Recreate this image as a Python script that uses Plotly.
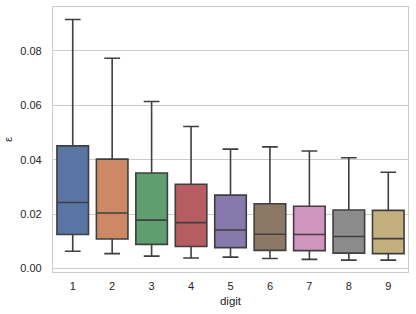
import plotly.graph_objects as go

digits = ["1", "2", "3", "4", "5", "6", "7", "8", "9"]
lower = [0.0064, 0.0055, 0.0046, 0.0039, 0.0042, 0.0037, 0.0034, 0.0031, 0.0031]
q1 = [0.0125, 0.0109, 0.0089, 0.0081, 0.0077, 0.0067, 0.0066, 0.0057, 0.0055]
median = [0.0243, 0.0204, 0.0178, 0.0169, 0.0142, 0.0126, 0.0125, 0.0118, 0.0110]
q3 = [0.0451, 0.0402, 0.0351, 0.0310, 0.0270, 0.0238, 0.0229, 0.0215, 0.0214]
upper = [0.0915, 0.0773, 0.0614, 0.0522, 0.0439, 0.0447, 0.0432, 0.0407, 0.0354]
colors = ["#5975a4", "#cc8963", "#5f9e6e", "#b55d60", "#857aab",
          "#8d7866", "#d095bf", "#8c8c8c", "#c4b07f"]
yticks = [0.00, 0.02, 0.04, 0.06, 0.08]

fig = go.Figure()
for i, d in enumerate(digits):
    fig.add_trace(go.Box(
        x=[d], q1=[q1[i]], median=[median[i]], q3=[q3[i]],
        lowerfence=[lower[i]], upperfence=[upper[i]],
        fillcolor=colors[i], line=dict(color="#3f3f3f", width=1.6),
        width=0.8, whiskerwidth=0.5, boxpoints=False, showlegend=False,
        hoverinfo="skip",
    ))

fig.update_layout(
    width=416, height=314,
    margin=dict(l=53, r=8, t=7, b=42),
    paper_bgcolor="white", plot_bgcolor="white",
    boxmode="overlay",
    font=dict(family="Liberation Sans, Arial, sans-serif", size=11, color="#262626"),
)
fig.update_xaxes(
    type="category", categoryorder="array", categoryarray=digits,
    range=[-0.5, 8.5], showgrid=False, zeroline=False, automargin=False,
    showline=True, mirror=True, linecolor="#cccccc", linewidth=1.25,
    ticks="", ticklabelstandoff=4,
    title=dict(text="digit", font=dict(size=11.5, color="#262626"), standoff=5),
)
fig.update_yaxes(
    range=[-0.00125, 0.0961], tickvals=yticks,
    ticktext=[f"{v:.2f}" for v in yticks], automargin=False,
    showgrid=True, gridcolor="#cccccc", gridwidth=1, zeroline=False,
    showline=True, mirror=True, linecolor="#cccccc", linewidth=1.25,
    ticks="", ticklabelstandoff=8,
    title=dict(text="ε", font=dict(size=11.5, color="#262626"), standoff=5),
)
fig.write_html("out.html", config={"displayModeBar": False},
               post_script="document.body.style.margin='0';")
